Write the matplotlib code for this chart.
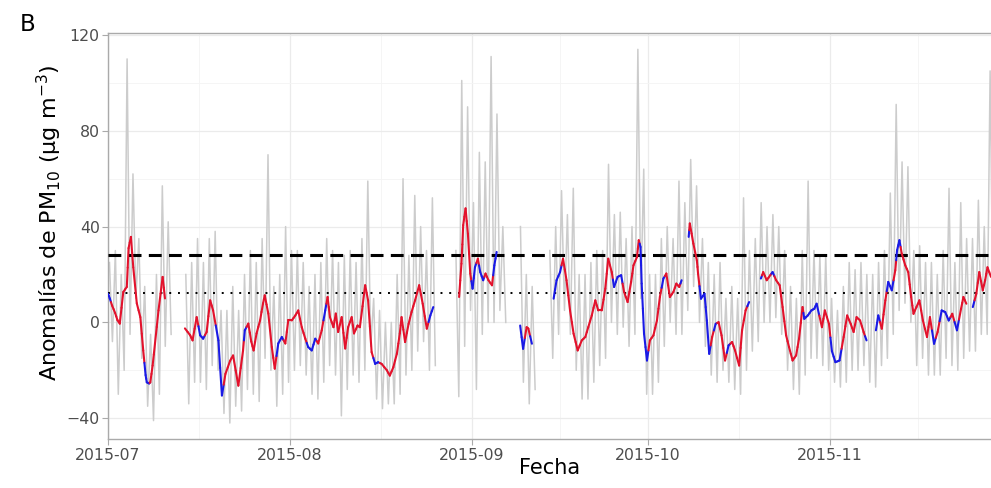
import numpy as np
import pandas as pd
import matplotlib
matplotlib.use('Agg')
import matplotlib.pyplot as plt
import matplotlib.dates as mdates
from matplotlib.collections import LineCollection

inicio = pd.Timestamp('2015-07-01')

# serie horaria (gris): maximo y minimo diario, dias desde 2015-07-01
gris_max = [25, 30, 20, 110, 62, 35, 15, -5, 20, 57, 42, None, None,
            20, 25, 35, 25, 35, 38, 5, 5, 15, 5, 20, 30, 25, 35, 70, 15, 20,
            40, 30, 30, 25, 15, 20, 25, 35, 30, 25, 28, 30, 25, 35, 59, 10, 5, 0, 0, 20,
            60, 28, 53, 40, 30, 52, None, None, None, 30, 101, 90, 50, 71, 67, 111, 87, 40, None, None,
            40, 20, 15, None, None, 30, 40, 55, 45, 56, 20, 20, 25, 30, 30, 66, 45, 46, 35, 40,
            114, 64, 20, 20, 35, 40, 35, 59, 50, 68, 57, 35, 25, 20, 25, 10, 15, 10, 52, 30,
            35, 50, 40, 45, 40, 30, 15, 10, 30, 59, 30, 28, 28, 10, 5, 15, 25, 22, 25, 20,
            20, 25, 30, 54, 91, 67, 65, 30, 32, 25, 25, 20, 30, 56, 25, 50, 35, 35, 51, 40,
            105]
gris_min = [-8, -30, -20, -5, 10, -15, -35, -41, -30, -10, -5, None, None,
            -34, -25, -25, -28, -18, -20, -38, -42, -35, -37, -28, -30, -33, -15, -20, -35, -30,
            -25, -20, -18, -22, -30, -32, -25, -18, -22, -39, -28, -22, -25, -20, -10, -32, -36, -34, -34, -30,
            -22, -20, -12, -8, -20, -18, None, None, None, -31, -10, 5, -28, -5, 0, 0, 5, 0, None, None,
            -25, -34, -28, None, None, -15, -5, 5, -5, -20, -32, -32, -25, -18, -15, 0, -5, -2, -10, -5,
            10, -30, -30, -25, -10, 0, -5, -5, 5, 15, 0, -10, -22, -25, -20, -25, -28, -30, -20, -12,
            -8, 0, 0, 2, -5, -20, -28, -30, -22, -15, -15, -18, -20, -25, -27, -25, -20, -20, -18, -25,
            -27, -18, -15, -5, 5, 8, 0, -18, -15, -22, -22, -22, -15, -18, -20, -15, -12, -12, -5, -5,
            0]

# serie suavizada: dia, valor, color (r = rojo, b = azul); None = hueco
suave = [
    (0.0, 12, 'b'), (0.3, 10, 'b'), (0.7, 7, 'r'), (1.2, 4, 'r'), (1.6, 1, 'r'), (2.0, -0.5, 'r'),
    (2.6, 12.7, 'r'), (3.2, 14.8, 'r'), (3.5, 31, 'r'), (3.9, 35.7, 'r'), (4.3, 23, 'r'), (4.9, 8, 'r'),
    (5.5, 2.2, 'r'), (6.0, -11.7, 'r'), (6.4, -22, 'b'), (6.6, -25, 'b'), (7.0, -25.5, 'b'),
    (7.2, -25, 'r'), (7.6, -18, 'r'), (8.0, -8.8, 'r'), (8.6, 5, 'r'), (9.3, 19, 'r'), (9.7, 10, 'r'),
    None,
    (13.1, -2.5, 'r'), (14.0, -5.4, 'r'), (14.4, -7.5, 'r'), (15.1, 2.2, 'r'), (15.7, -5.4, 'b'),
    (16.2, -6.8, 'b'), (16.8, -4, 'r'), (17.4, 9.2, 'r'), (17.9, 5, 'r'), (18.8, -7.5, 'b'),
    (19.4, -30.5, 'b'), (20.0, -21.5, 'r'), (20.8, -16, 'r'), (21.3, -13.8, 'r'), (22.2, -26.4, 'r'),
    (23.0, -11.7, 'r'), (23.3, -3.3, 'b'), (23.9, -0.5, 'r'), (24.4, -8, 'r'), (24.8, -11.7, 'r'),
    (25.3, -4.6, 'r'), (25.9, 0.8, 'r'), (26.4, 7.9, 'r'), (26.7, 11.3, 'r'), (27.3, 3.7, 'r'),
    (27.9, -10.3, 'r'), (28.4, -19.3, 'r'), (29.0, -8.8, 'b'), (29.6, -6.1, 'b'), (30.2, -8.8, 'r'),
    (30.7, 0.8, 'r'), (31.3, 0.8, 'r'), (31.9, 2.9, 'r'), (32.4, 5, 'r'), (33.0, -2, 'r'),
    (33.6, -6.8, 'r'), (34.1, -10.3, 'b'), (34.7, -11.7, 'b'), (35.3, -6.8, 'b'), (35.8, -8.8, 'r'),
    (36.4, -3.3, 'r'), (37.0, 5, 'b'), (37.4, 10.6, 'r'), (37.8, 2.2, 'r'), (38.4, -2, 'r'),
    (38.8, 3.7, 'r'), (39.2, -4, 'r'), (39.8, 2.2, 'r'), (40.4, -10.9, 'r'), (40.9, -2, 'r'),
    (41.5, 2.2, 'r'), (41.9, -4.6, 'r'), (42.5, -1.3, 'r'), (42.9, -2, 'r'), (43.8, 15.5, 'r'),
    (44.3, 9.2, 'r'), (44.9, -12.4, 'r'), (45.5, -17.3, 'b'), (46.0, -16.6, 'b'), (46.6, -17.3, 'r'),
    (47.5, -20, 'r'), (48.0, -22.2, 'r'), (48.6, -18.7, 'r'), (49.2, -13.1, 'r'), (49.7, -4.6, 'r'),
    (50.0, 2.2, 'r'), (50.6, -8.2, 'r'), (51.2, -0.6, 'r'), (51.7, 4.3, 'r'), (52.3, 9.2, 'r'),
    (53.0, 15.5, 'r'), (53.6, 7.8, 'r'), (54.3, -2.6, 'r'), (54.9, 2.9, 'b'), (55.4, 6.4, 'b'),
    None,
    (59.8, 10.6, 'r'), (60.2, 24.5, 'r'), (60.5, 40.6, 'r'), (60.9, 47.6, 'r'), (61.3, 37, 'r'),
    (61.7, 20.4, 'r'), (62.1, 14.1, 'b'), (62.5, 23, 'b'), (63.0, 26.6, 'r'), (63.4, 21, 'b'),
    (63.9, 17.6, 'b'), (64.3, 20.4, 'r'), (64.8, 17.6, 'r'), (65.4, 15.5, 'r'), (65.8, 23.8, 'b'),
    (66.2, 29.4, 'b'),
    None,
    (70.2, -1.3, 'b'), (70.7, -11, 'b'), (71.3, -2, 'r'), (71.6, -2.6, 'r'), (72.2, -8.9, 'b'),
    None,
    (75.9, 9.9, 'b'), (76.4, 17.6, 'b'), (77.0, 21, 'b'), (77.5, 26.6, 'r'), (78.1, 17.6, 'r'),
    (78.7, 5, 'r'), (79.3, -4.7, 'r'), (80.0, -11.7, 'r'), (80.7, -7.5, 'r'), (81.3, -6.1, 'r'),
    (81.8, -2, 'r'), (82.4, 2.9, 'r'), (83.0, 9.2, 'r'), (83.5, 5, 'r'), (84.1, 5, 'r'),
    (84.7, 14.1, 'r'), (85.2, 26.6, 'r'), (85.8, 21, 'r'), (86.2, 14.8, 'b'), (86.8, 19, 'b'),
    (87.4, 19.7, 'b'), (87.9, 12.7, 'r'), (88.5, 8.5, 'r'), (89.1, 16.9, 'r'), (89.5, 23.8, 'r'),
    (90.1, 27.3, 'r'), (90.4, 34.3, 'r'), (90.7, 31.5, 'b'), (90.9, 16.2, 'b'), (91.3, -4.7, 'b'),
    (91.8, -15.9, 'b'), (92.3, -7.5, 'r'), (92.9, -5.4, 'r'), (93.5, 0.8, 'r'), (94.0, 10.6, 'r'),
    (94.6, 18.3, 'b'), (95.1, 20.4, 'r'), (95.7, 10.6, 'r'), (96.3, 12.7, 'r'), (96.8, 16.2, 'r'),
    (97.3, 14.8, 'r'), (97.7, 17.6, 'b'),
    None,
    (98.9, 35.7, 'b'), (99.1, 41.3, 'r'), (99.7, 32.9, 'r'), (100.3, 25.9, 'r'), (100.5, 20.4, 'r'),
    (101.0, 9.9, 'b'), (101.6, 12, 'b'), (102.0, 0.8, 'b'), (102.4, -13.1, 'b'), (102.9, -6.1, 'r'),
    (103.5, -0.6, 'b'), (104.0, 0.1, 'r'), (104.5, -5.4, 'r'), (105.1, -15.9, 'r'), (105.7, -9.6, 'b'),
    (106.3, -8.2, 'r'), (106.8, -11.7, 'r'), (107.5, -18, 'r'), (108.0, -3.3, 'r'), (108.6, 5, 'r'),
    (109.2, 8.5, 'b'),
    None,
    (111.2, 18.3, 'b'), (111.6, 21, 'r'), (112.2, 17.6, 'r'), (112.8, 19.7, 'r'), (113.2, 21, 'b'),
    (113.8, 17.6, 'r'), (114.4, 15.5, 'r'), (114.9, 6.4, 'r'), (115.5, -5.4, 'r'), (116.0, -10.3, 'r'),
    (116.6, -15.9, 'r'), (117.2, -13.8, 'r'), (117.7, -6.8, 'r'), (118.3, 6.4, 'r'), (118.6, 1.5, 'b'),
    (119.2, 2.9, 'b'), (119.8, 5, 'b'), (120.3, 5.7, 'b'), (120.7, 7.8, 'b'), (121.6, -2, 'r'),
    (122.1, 5, 'r'), (122.8, -0.6, 'r'), (123.3, -12, 'b'), (123.9, -16.6, 'b'), (124.6, -15.9, 'b'),
    (125.3, -6.1, 'r'), (125.9, 2.9, 'r'), (126.5, -0.6, 'r'), (127.0, -4, 'r'), (127.5, 2.2, 'r'),
    (128.1, 0.8, 'r'), (128.7, -4, 'r'), (129.2, -7.5, 'b'),
    None,
    (130.8, -3.3, 'b'), (131.2, 2.9, 'b'), (131.8, -2.6, 'r'), (132.4, 9.2, 'r'), (132.9, 16.9, 'b'),
    (133.5, 13.4, 'b'), (134.1, 21.8, 'r'), (134.4, 30.1, 'b'), (134.8, 34.3, 'b'), (135.2, 28.7, 'r'),
    (135.8, 23.8, 'r'), (136.3, 21, 'r'), (136.8, 10.6, 'r'), (137.2, 3.6, 'r'), (137.7, 6.4, 'r'),
    (138.2, 9.2, 'r'), (138.8, 0.8, 'r'), (139.5, -6.1, 'r'), (140.0, 2.2, 'r'), (140.7, -8.9, 'b'),
    (141.3, -4, 'r'), (142.0, 5, 'b'), (142.6, 4.3, 'b'), (143.2, 0.8, 'b'), (143.8, 3.6, 'r'),
    (144.6, -3.3, 'b'), (145.3, 5.7, 'r'), (145.7, 10.6, 'r'), (146.2, 7.8, 'r'),
    None,
    (147.3, 6.4, 'b'), (147.9, 12, 'r'), (148.4, 21, 'r'), (149.0, 13.4, 'r'), (149.4, 17.6, 'r'),
    (149.8, 23, 'r'), (150.4, 19, 'r'),
]

umbral_alto = 28.2
umbral_bajo = 12.1

t0 = mdates.date2num(inicio)

# zigzag gris: maximo y minimo de cada dia
gx, gy = [], []
for i, (hi, lo) in enumerate(zip(gris_max, gris_min)):
    if hi is None:
        gx.append(t0 + i)
        gy.append(np.nan)
        continue
    gx += [t0 + i + 0.25, t0 + i + 0.75]
    gy += [hi, lo]

# tramos de color para la serie suavizada
colores = {'r': '#E3122C', 'b': '#1A1AE6'}
segs, cols = [], []
tramo = []
for p in suave + [None]:
    if p is None:
        for k, (d, v, c) in enumerate(tramo):
            x = t0 + d
            if k > 0:
                dp, vp, _ = tramo[k - 1]
                segs.append([((t0 + dp + x) / 2, (vp + v) / 2), (x, v)])
                cols.append(colores[c])
            if k < len(tramo) - 1:
                dn, vn, _ = tramo[k + 1]
                segs.append([(x, v), ((t0 + dn + x) / 2, (vn + v) / 2)])
                cols.append(colores[c])
        tramo = []
    else:
        tramo.append(p)

fig = plt.figure(figsize=(9.91, 4.88), dpi=100)
ax = fig.add_axes([0.109, 0.0998, 0.891, 0.832])

ax.plot(gx, gy, color='#CCCCCC', lw=1.1, zorder=2)
ax.axhline(umbral_alto, color='black', lw=2.2, ls=(0, (4.2, 2.4)), zorder=3)
ax.axhline(umbral_bajo, color='black', lw=1.4, ls=(0, (1, 3.5)), zorder=3)
lc = LineCollection(segs, colors=cols, linewidths=1.5, zorder=4, capstyle='round')
ax.add_collection(lc)

ax.set_xlim(t0, t0 + 150.4)
ax.set_ylim(-48.8, 120.7)

meses = pd.date_range('2015-07-01', '2015-11-01', freq='MS')
ax.set_xticks(mdates.date2num(meses))
ax.set_xticklabels([m.strftime('%Y-%m') for m in meses])
medios = [(mdates.date2num(a) + mdates.date2num(b)) / 2 for a, b in zip(meses[:-1], meses[1:])]
medios.append(mdates.date2num(meses[-1]) + 15)
ax.set_xticks(medios, minor=True)
ax.set_yticks([-40, 0, 40, 80, 120])
ax.set_yticks([-20, 20, 60, 100], minor=True)

ax.grid(which='major', color='#EBEBEB', lw=0.9, zorder=0)
ax.grid(which='minor', color='#F4F4F4', lw=0.6, zorder=0)
ax.set_axisbelow(True)

for s in ['left', 'bottom', 'top']:
    ax.spines[s].set_color('#AAAAAA')
    ax.spines[s].set_linewidth(1.0)
ax.spines['right'].set_visible(False)
ax.tick_params(which='major', length=4, color='#AAAAAA', labelsize=11.3,
               labelcolor='#4D4D4D', pad=2)
ax.tick_params(which='minor', length=0)

ax.set_xlabel('Fecha', fontsize=15, labelpad=-3)
ax.set_ylabel('Anomalías de PM$_{10}$ (µg m$^{-3}$)', fontsize=16)
ax.yaxis.set_label_coords(-0.05, 0.533)
fig.text(0.02, 0.937, 'B', fontsize=16.5)

fig.savefig('out.png', dpi=100)
